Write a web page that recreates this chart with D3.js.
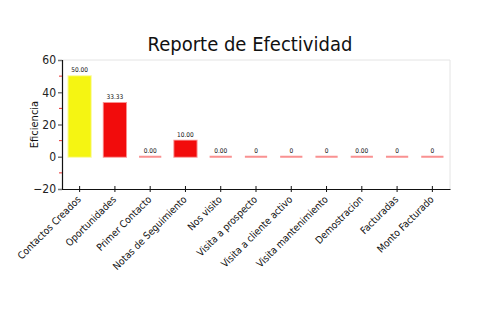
<!DOCTYPE html>
<html>
<head>
<meta charset="utf-8">
<script src="https://cdn.jsdelivr.net/npm/d3@7"></script>
<style>
  html, body { margin: 0; padding: 0; background: #fff; }
  svg { display: block; }
  text { font-family: "DejaVu Sans Condensed", "DejaVu Sans", sans-serif; }
</style>
</head>
<body>
<svg id="chart" width="500" height="330"></svg>
<script>
// Effectiveness per sales activity
const categories = ["Contactos Creados", "Oportunidades", "Primer Contacto", "Notas de Seguimiento",
  "Nos visito", "Visita a prospecto", "Visita a cliente activo", "Visita mantenimiento",
  "Demostracion", "Facturadas", "Monto Facturado"];
const values = [50, 33.33, 0, 10, 0, 0, 0, 0, 0, 0, 0];
const valueLabels = ["50.00", "33.33", "0.00", "10.00", "0.00", "0", "0", "0", "0.00", "0", "0"];
const barColors = ["#f5f512", "#f20c0c", "#f20c0c", "#f20c0c", "#f20c0c", "#f20c0c",
  "#f20c0c", "#f20c0c", "#f20c0c", "#f20c0c", "#f20c0c"];
const yTicks = [-20, 0, 20, 40, 60];
const yMinorTicks = [-10, 10, 30, 50];

const svg = d3.select("#chart");
const plotLeft = 62, plotRight = 450, plotTop = 60, plotBottom = 189;

const x = d3.scaleBand().domain(categories).range([plotLeft, plotRight]).paddingInner(0.37).paddingOuter(0.185);
const y = d3.scaleLinear().domain([-20, 60]).range([plotBottom, plotTop]);

// title
svg.append("text")
  .attr("x", 250).attr("y", 51)
  .attr("text-anchor", "middle")
  .style("font-size", "20px")
  .attr("fill", "#111")
  .text("Reporte de Efectividad");

// plot frame (top and right edges)
svg.append("path")
  .attr("d", `M${plotLeft},${plotTop}H${plotRight}V${plotBottom}`)
  .attr("fill", "none")
  .attr("stroke", "#e4e4e4")
  .attr("stroke-width", 1);

// bars as closed paths so that zero-height bars still show their outline
svg.append("g").selectAll("path")
  .data(values)
  .join("path")
  .attr("d", (d, i) => {
    const x0 = x(categories[i]), x1 = x0 + x.bandwidth();
    const y0 = y(0), y1 = y(d);
    return `M${x0},${y0}H${x1}V${y1}H${x0}Z`;
  })
  .attr("fill", (d, i) => barColors[i])
  .attr("stroke", (d, i) => barColors[i])
  .attr("stroke-opacity", 0.45)
  .attr("stroke-width", 2);

// value labels
svg.append("g").selectAll("text")
  .data(values)
  .join("text")
  .attr("x", (d, i) => x(categories[i]) + x.bandwidth() / 2)
  .attr("y", d => y(d) - 4)
  .attr("text-anchor", "middle")
  .style("font-size", "6.5px")
  .attr("fill", "#111")
  .text((d, i) => valueLabels[i]);

// y axis
const yAxis = svg.append("g")
  .attr("transform", `translate(${plotLeft},0)`)
  .call(d3.axisLeft(y).tickValues(yTicks).tickSize(4).tickPadding(2));
yAxis.select(".domain").attr("stroke", "#111").attr("stroke-width", 1.2);
yAxis.selectAll(".tick line").attr("stroke", "#777").attr("stroke-width", 1.5);
yAxis.selectAll(".tick text").style("font-size", "12px").attr("fill", "#222");

// minor ticks
svg.append("g").selectAll("line")
  .data(yMinorTicks)
  .join("line")
  .attr("x1", plotLeft - 3).attr("x2", plotLeft)
  .attr("y1", d => y(d)).attr("y2", d => y(d))
  .attr("stroke", "#e83030").attr("stroke-width", 1);

// y axis title
svg.append("text")
  .attr("transform", `translate(38,${(plotTop + plotBottom) / 2}) rotate(-90)`)
  .attr("text-anchor", "middle")
  .style("font-size", "11px")
  .attr("fill", "#111")
  .text("Eficiencia");

// x axis
const xAxis = svg.append("g")
  .attr("transform", `translate(0,${plotBottom})`)
  .call(d3.axisBottom(x).tickSize(0).tickSizeOuter(0));
xAxis.select(".domain").attr("stroke", "#111").attr("stroke-width", 1.2);
xAxis.selectAll(".tick line").remove();
xAxis.selectAll(".tick").append("line")
  .attr("y1", -3).attr("y2", 3)
  .attr("stroke", "#111").attr("stroke-width", 1);
xAxis.selectAll(".tick text")
  .style("font-size", "10px")
  .attr("fill", "#111")
  .attr("text-anchor", "end")
  .attr("dy", null)
  .attr("transform", "translate(2,11) rotate(-45)")
  .attr("x", 0).attr("y", 0);
</script>
</body>
</html>
